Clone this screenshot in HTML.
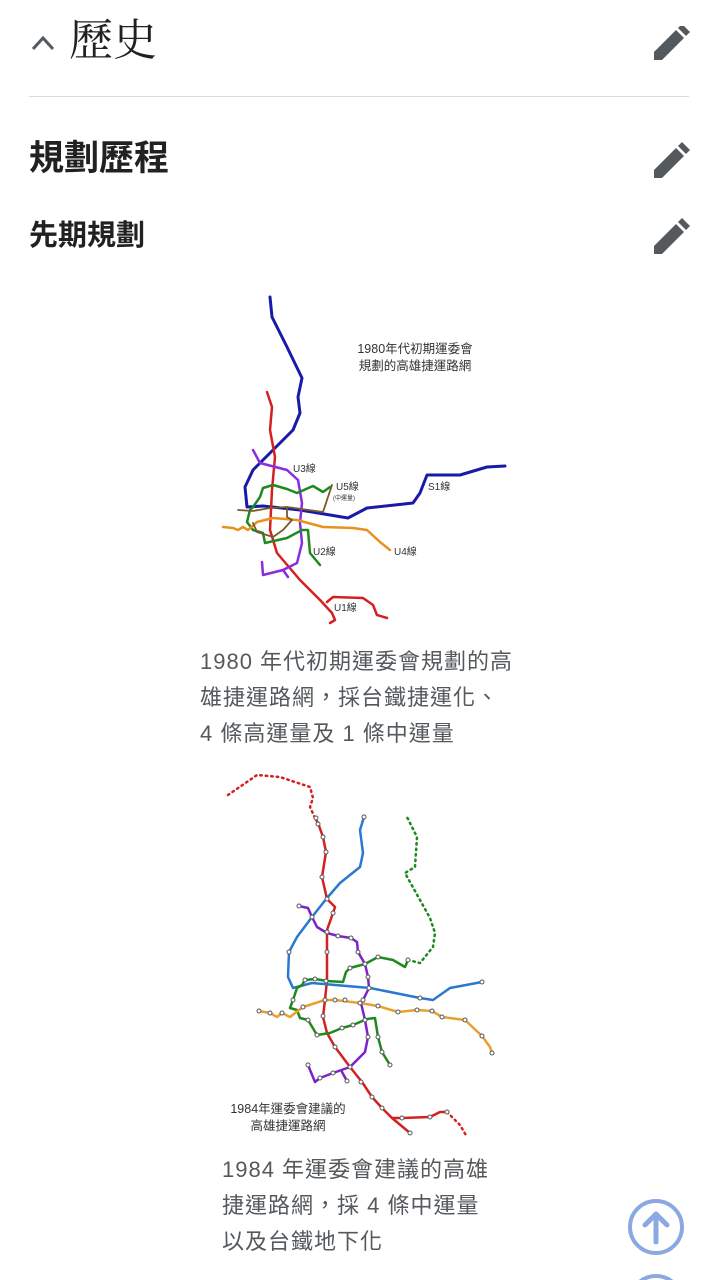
<!DOCTYPE html>
<html><head><meta charset="utf-8"><style>
body{margin:0;width:718px;height:1280px;background:#fff;position:relative;overflow:hidden;font-family:"Liberation Sans","Noto Sans CJK TC",sans-serif;}
.a{position:absolute;white-space:nowrap;line-height:1}
.cap{position:absolute;font-size:22px;color:#54595d;line-height:36px;letter-spacing:1px;font-family:"Liberation Sans","Noto Sans CJK TC",sans-serif}
</style></head><body>
<svg class="a" style="left:30px;top:30px" width="28" height="24"><polyline points="3,19 13,8 23,19" fill="none" stroke="#54595d" stroke-width="3"/></svg>
<div class="a" style="left:69px;top:19px;font-size:44px;color:#202122;font-family:'Liberation Serif','Noto Serif CJK SC',serif">歷史</div>
<div class="a" style="left:29px;top:96px;width:660px;height:1px;background:#dadde0"></div>
<div class="a" style="left:29px;top:141px;font-size:35px;font-weight:bold;color:#202122">規劃歷程</div>
<div class="a" style="left:29px;top:222px;font-size:29px;font-weight:bold;color:#202122">先期規劃</div>
<svg class="a" style="left:652px;top:26px" width="38" height="230">
<g fill="#54595d">
<path d="M2,34 L2,26 L24,4 L32,12 L10,34Z M26,2 L30,-2 L38,6 L34,10Z" transform="translate(0,0)"/>
<path d="M2,34 L2,26 L24,4 L32,12 L10,34Z M26,2 L30,-2 L38,6 L34,10Z" transform="translate(0,118)"/>
<path d="M2,34 L2,26 L24,4 L32,12 L10,34Z M26,2 L30,-2 L38,6 L34,10Z" transform="translate(0,194)"/>
</g></svg>

<svg class="a" style="left:0;top:0" width="718" height="1280" font-family="Liberation Sans,Noto Sans CJK TC,sans-serif">
<g fill="none" stroke-width="2.5" stroke-linejoin="round" stroke-linecap="round">
<polyline stroke="#1a1aa8" stroke-width="3" points="270,297 272,317 287,347 302,378 298,397 300,413 293,430 270,453 253,470 245,487 247,507 263,506 300,510 348,518 367,508 413,503 420,493 427,475 460,475 487,467 505,466"/>
<polyline stroke="#d52020" points="267,392 272,407 270,430 275,457 272,490 270,530 277,553 300,580 320,600 332,613 335,620 330,623"/>
<polyline stroke="#d52020" points="327,602 333,597 363,598 373,605 377,615 387,618"/>
<polyline stroke="#8a2be2" points="253,450 260,463 287,470 298,480 302,503 300,523 302,543 297,563 283,570 263,575 262,562"/>
<polyline stroke="#8a2be2" points="283,570 288,577"/>
<polyline stroke="#1e8a1e" points="253,507 260,497 263,488 273,485 287,489 297,493 313,486 323,492 330,487"/>
<polyline stroke="#1e8a1e" points="253,507 250,510 247,522 253,530 263,533 265,543 287,538 302,530 308,530 310,553 320,565"/>
<polyline stroke="#e8921e" points="223,527 233,528 238,530 243,527 248,530 257,522 273,518 297,520 323,527 353,528 367,530 380,542 390,550"/>
<polyline stroke="#7a5a2a" stroke-width="1.8" points="332,485 327,500 323,512 287,507 287,517 292,520 283,530 273,537 257,532 253,523"/>
<polyline stroke="#7a5a2a" stroke-width="1.8" points="238,510 253,511 270,508 287,507"/>
</g>
<g font-size="12.5" fill="#333" text-anchor="middle">
<text x="415" y="353">1980年代初期運委會</text>
<text x="415" y="370">規劃的高雄捷運路網</text>
</g>
<g font-size="10" fill="#333">
<text x="293" y="472">U3線</text><text x="336" y="490">U5線</text>
<text x="333" y="500" font-size="6">(中運量)</text>
<text x="428" y="490">S1線</text><text x="313" y="555">U2線</text>
<text x="394" y="555">U4線</text><text x="334" y="611">U1線</text>
</g>

<g fill="none" stroke-width="2.5" stroke-linejoin="round" stroke-linecap="round">
<polyline stroke="#d52020" stroke-dasharray="1.5 4" points="228,795 257,775 280,777 310,787 313,798 310,807 315,818"/>
<polyline stroke="#d52020" stroke-dasharray="1.5 4" points="447,1112 460,1125 467,1137"/>
<polyline stroke="#1e8a1e" stroke-dasharray="1.5 4" points="408,960 420,963 433,947 435,933 430,918 420,900 405,873 415,867 417,837 407,817"/>
<polyline stroke="#d52020" points="315,818 318,823 323,837 326,852 322,877 327,899 335,907 333,913 327,930 327,952 327,980 325,1000 323,1017 327,1033 335,1047 350,1067 362,1082 372,1097 382,1108 392,1118 402,1118 430,1117 440,1112 447,1112"/>
<polyline stroke="#d52020" points="392,1118 410,1133"/>
<polyline stroke="#2a78d0" points="364,817 360,830 363,853 360,867 340,883 327,898 312,917 297,937 289,952 288,977 293,988 312,983 370,988 420,998 433,1000 450,988 482,982"/>
<polyline stroke="#7b22c8" points="299,906 308,908 312,917 317,927 327,933 338,936 351,938 357,942 358,952 365,964 368,977 369,988 363,1000 361,1003 365,1020 368,1037 365,1052 350,1067 333,1073 320,1078 315,1082 308,1065"/>
<polyline stroke="#7b22c8" points="342,1072 347,1081"/>
<polyline stroke="#1e8a1e" points="408,960 405,967 393,960 378,957 365,964 350,968 346,972 343,982 327,981 315,979 305,980 302,985 297,988 293,1000 290,1008 297,1010 300,1018 308,1020 317,1035 330,1033 342,1028 353,1025 367,1019 375,1018 378,1037 382,1052 390,1065"/>
<polyline stroke="#e8a030" points="259,1011 270,1013 277,1017 282,1013 290,1017 303,1007 325,1000 335,1000 360,1003 378,1006 398,1012 417,1010 432,1011 442,1017 465,1020 482,1036 490,1047 492,1053"/>
</g>
<g fill="#fff" stroke="#555" stroke-width="1">
<circle cx="316" cy="818" r="2"/><circle cx="318" cy="824" r="2"/><circle cx="323" cy="837" r="2"/><circle cx="326" cy="852" r="2"/><circle cx="322" cy="877" r="2"/><circle cx="327" cy="899" r="2"/><circle cx="333" cy="913" r="2"/><circle cx="327" cy="932" r="2"/><circle cx="327" cy="952" r="2"/><circle cx="326" cy="981" r="2"/><circle cx="325" cy="1000" r="2"/><circle cx="323" cy="1016" r="2"/><circle cx="335" cy="1047" r="2"/><circle cx="350" cy="1067" r="2"/><circle cx="361" cy="1082" r="2"/><circle cx="372" cy="1097" r="2"/><circle cx="382" cy="1108" r="2"/><circle cx="402" cy="1118" r="2"/><circle cx="430" cy="1117" r="2"/><circle cx="447" cy="1112" r="2"/><circle cx="410" cy="1133" r="2"/>
<circle cx="364" cy="817" r="2"/><circle cx="289" cy="952" r="2"/><circle cx="312" cy="917" r="2"/><circle cx="420" cy="998" r="2"/><circle cx="482" cy="982" r="2"/><circle cx="369" cy="988" r="2"/>
<circle cx="299" cy="906" r="2"/><circle cx="338" cy="936" r="2"/><circle cx="351" cy="938" r="2"/><circle cx="358" cy="952" r="2"/><circle cx="365" cy="964" r="2"/><circle cx="368" cy="977" r="2"/><circle cx="363" cy="1000" r="2"/><circle cx="365" cy="1020" r="2"/><circle cx="368" cy="1037" r="2"/><circle cx="333" cy="1073" r="2"/><circle cx="320" cy="1078" r="2"/><circle cx="308" cy="1065" r="2"/><circle cx="347" cy="1081" r="2"/>
<circle cx="408" cy="960" r="2"/><circle cx="378" cy="957" r="2"/><circle cx="350" cy="968" r="2"/><circle cx="315" cy="979" r="2"/><circle cx="305" cy="980" r="2"/><circle cx="293" cy="1000" r="2"/><circle cx="308" cy="1020" r="2"/><circle cx="317" cy="1035" r="2"/><circle cx="342" cy="1028" r="2"/><circle cx="353" cy="1025" r="2"/><circle cx="378" cy="1037" r="2"/><circle cx="382" cy="1052" r="2"/><circle cx="390" cy="1065" r="2"/>
<circle cx="259" cy="1011" r="2"/><circle cx="270" cy="1013" r="2"/><circle cx="282" cy="1013" r="2"/><circle cx="303" cy="1007" r="2"/><circle cx="335" cy="1000" r="2"/><circle cx="345" cy="1000" r="2"/><circle cx="360" cy="1003" r="2"/><circle cx="378" cy="1006" r="2"/><circle cx="398" cy="1012" r="2"/><circle cx="417" cy="1010" r="2"/><circle cx="432" cy="1011" r="2"/><circle cx="442" cy="1017" r="2"/><circle cx="465" cy="1020" r="2"/><circle cx="482" cy="1036" r="2"/><circle cx="492" cy="1053" r="2"/>
</g>
<g font-size="12.5" fill="#333" text-anchor="middle">
<text x="288" y="1113">1984年運委會建議的</text>
<text x="288" y="1130">高雄捷運路網</text>
</g>
</svg>

<div class="cap" style="left:200px;top:644px">1980 年代初期運委會規劃的高<br>雄捷運路網，採台鐵捷運化、<br>4 條高運量及 1 條中運量</div>
<div class="cap" style="left:222px;top:1152px">1984 年運委會建議的高雄<br>捷運路網，採 4 條中運量<br>以及台鐵地下化</div>

<svg class="a" style="left:626px;top:1198px" width="60" height="82">
<circle cx="30" cy="29" r="26" fill="none" stroke="#8aa9e0" stroke-width="4"/>
<path d="M30,44 V16 M19,27 L30,16 L41,27" fill="none" stroke="#8aa9e0" stroke-width="5" stroke-linecap="round" stroke-linejoin="round"/>
<circle cx="30" cy="104" r="26" fill="none" stroke="#8aa9e0" stroke-width="4"/>
</svg>
</body></html>
